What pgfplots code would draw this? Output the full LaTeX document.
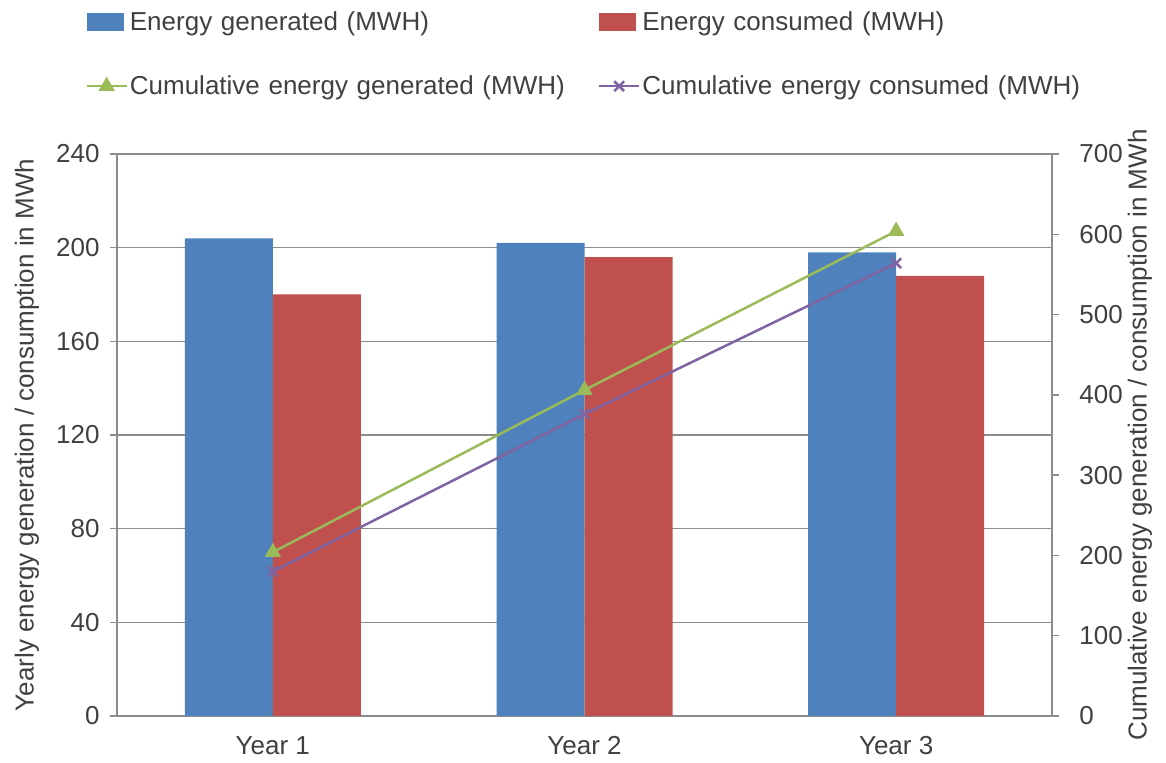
\documentclass[border=0pt]{standalone}
\usepackage{fontspec}
\setmainfont{Liberation Sans}
\usepackage{pgfplots}
\pgfplotsset{compat=1.18}

\definecolor{gen}{HTML}{4F81BD}
\definecolor{con}{HTML}{C0504D}
\definecolor{cgen}{HTML}{9BBB59}
\definecolor{ccon}{HTML}{8064A2}
\definecolor{txt}{HTML}{404040}
\definecolor{gridc}{HTML}{8C8C8C}

\pgfplotsset{
  common/.style={
    width=467.5pt, height=281pt, scale only axis,
    at={(58.5pt,23.5pt)}, anchor=south west,
    xmin=0.5, xmax=3.5,
    tick label style={font=\fontsize{13}{15}\selectfont, text=txt},
    label style={font=\fontsize{13}{15}\selectfont, text=txt},
    /pgf/number format/assume math mode=true,
    axis line style={gridc, line width=0.75pt},
    tick align=outside, major tick length=3.5pt,
    ytick style={gridc, line width=0.75pt},
  },
  barlegend/.style={legend image code/.code={\fill[##1] (0pt,-4.5pt) rectangle (18.5pt,4.5pt);}},
  linelegend/.style={legend image code/.code={\draw[mark repeat=2,mark phase=2,##1] plot coordinates {(0pt,0pt) (10pt,0pt) (20pt,0pt)};}},
}

\begin{document}
\begin{tikzpicture}
\useasboundingbox (0,0) rectangle (583pt,381.5pt);

% yearly values, left axis
\begin{axis}[common,
  ybar=0pt, bar width=44pt,
  ymin=0, ymax=240, ytick={0,40,...,240},
  axis x line*=bottom, axis y line*=left,
  xtick={1,2,3}, xticklabels={Year 1,Year 2,Year 3},
  xtick style={draw=none},
  xticklabel style={anchor=center, yshift=-11.5pt},
  yticklabel style={anchor=east, inner sep=0pt, xshift=-5pt},
  ymajorgrids, grid style={gridc, line width=0.75pt},
  ylabel={Yearly energy generation / consumption in MWh},
  ylabel style={at={(axis description cs:-0.0963,0.5)}, anchor=center},
]
\addplot[fill=gen, draw=none] coordinates {(1,204) (2,202) (3,198)};
\addplot[fill=con, draw=none] coordinates {(1,180) (2,196) (3,188)};
\end{axis}

% cumulative values, right axis
\begin{axis}[common,
  ymin=0, ymax=700, ytick={0,100,...,700},
  axis y line*=right, axis x line=none,
  yticklabel style={anchor=west, inner sep=0pt, xshift=10pt},
  ylabel={Cumulative energy generation / consumption in MWh},
  ylabel style={at={(axis description cs:1.0941,0.5)}, anchor=center},
  legend columns=2, legend cell align=left,
  legend style={draw=none, fill=none, at={(0,1)}, anchor=north west,
    xshift=-16pt, yshift=73.5pt, inner sep=0pt,
    font=\fontsize{13}{15}\selectfont, text=txt, row sep=17pt,
    nodes={text width=228pt, inner xsep=1pt, inner ysep=2pt, align=left},
    /tikz/every even column/.append style={column sep=5pt}},
]
\addlegendimage{barlegend, fill=gen, draw=none}
\addlegendentry{Energy generated (MWH)}
\addlegendimage{barlegend, fill=con, draw=none}
\addlegendentry{Energy consumed (MWH)}
\addplot[cgen, line width=1.25pt, mark=triangle*, mark size=3.5pt, linelegend] coordinates {(1,204) (2,406) (3,604)};
\addlegendentry{Cumulative energy generated (MWH)}
\addplot[ccon, line width=1.25pt, mark=x, mark size=3.5pt, linelegend] coordinates {(1,180) (2,376) (3,564)};
\addlegendentry{Cumulative energy consumed (MWH)}
\end{axis}
\end{tikzpicture}
\end{document}
